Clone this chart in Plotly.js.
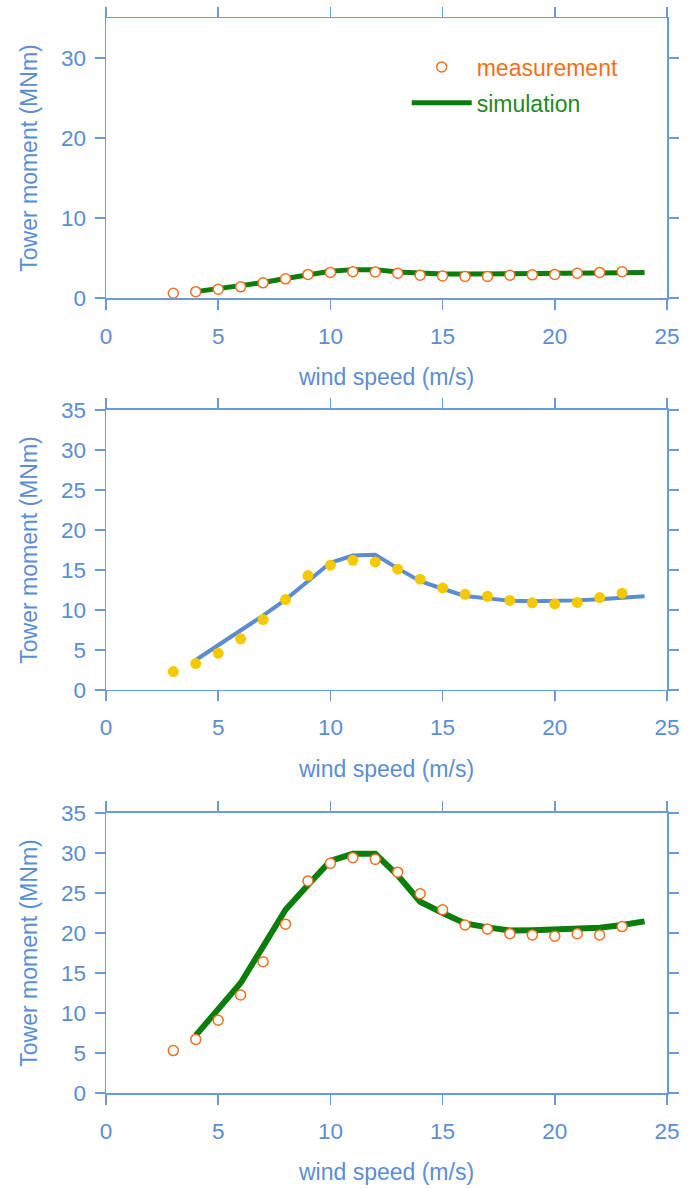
<!DOCTYPE html>
<html>
<head>
<meta charset="utf-8">
<script src="https://cdn.plot.ly/plotly-3.0.1.min.js"></script>
<style>
  html, body { margin: 0; padding: 0; background: #ffffff; }
  #chart { width: 692px; height: 1189px; }
</style>
</head>
<body>
<div id="chart"></div>
<script>
// ---- data ----
var windMeas = [3, 4, 5, 6, 7, 8, 9, 10, 11, 12, 13, 14, 15, 16, 17, 18, 19, 20, 21, 22, 23];
var windSim  = [4, 5, 6, 7, 8, 9, 10, 11, 12, 13, 14, 15, 16, 17, 18, 19, 20, 21, 22, 23, 24];

var topMeas = [0.6, 0.8, 1.1, 1.4, 1.9, 2.4, 2.95, 3.2, 3.3, 3.25, 3.1, 2.85, 2.75, 2.7, 2.7, 2.85, 2.9, 2.95, 3.1, 3.2, 3.3];
var topSim  = [0.8, 1.15, 1.5, 1.95, 2.45, 2.95, 3.35, 3.55, 3.55, 3.25, 3.05, 3.0, 3.0, 3.0, 3.0, 3.0, 3.05, 3.05, 3.1, 3.15, 3.2];

var midMeas = [2.3, 3.3, 4.6, 6.4, 8.8, 11.3, 14.3, 15.6, 16.2, 16.0, 15.1, 13.85, 12.75, 11.95, 11.7, 11.2, 10.9, 10.75, 10.95, 11.55, 12.1];
var midSim  = [3.75, 5.6, 7.4, 9.3, 11.3, 13.6, 15.9, 16.8, 16.9, 15.2, 13.6, 12.65, 11.75, 11.45, 11.15, 11.1, 11.1, 11.2, 11.35, 11.5, 11.7];

var botMeas = [5.3, 6.7, 9.1, 12.25, 16.4, 21.1, 26.5, 28.7, 29.4, 29.2, 27.6, 24.9, 22.9, 21.0, 20.5, 19.9, 19.75, 19.6, 19.9, 19.75, 20.8];
var botSim  = [7.2, 10.45, 13.75, 18.3, 22.9, 26.0, 29.0, 29.9, 29.9, 27.2, 23.9, 22.5, 21.2, 20.7, 20.3, 20.35, 20.4, 20.5, 20.65, 21.0, 21.45];

var xTitle = 'wind speed (m/s)';
var yTitle = 'Tower moment (MNm)';
var legendMeas = 'measurement';
var legendSim = 'simulation';

// ---- styles ----
var axisColor = '#6b9ad8';
var textColor = '#5b8dd4';
var orange = '#f07020';
var green = '#0b7d0b';
var blue = '#5b8ccf';
var yellow = '#f5c800';
var FONT = 'Liberation Sans, Arial, Helvetica, sans-serif';

var traces = [
  { x: windSim, y: topSim, xaxis: 'x', yaxis: 'y', type: 'scatter', mode: 'lines',
    name: '<span style="color:#1e8a1e">' + legendSim + '</span>', legendgroup: 'sim',
    line: { color: green, width: 5 }, showlegend: true, legendrank: 2 },
  { x: windMeas, y: topMeas, xaxis: 'x', yaxis: 'y', type: 'scatter', mode: 'markers',
    name: '<span style="color:#f07020">' + legendMeas + '</span>', legendgroup: 'meas',
    marker: { symbol: 'circle', size: 10, color: '#ffffff', line: { color: orange, width: 1.5 } },
    showlegend: true, legendrank: 1 },

  { x: windSim, y: midSim, xaxis: 'x2', yaxis: 'y2', type: 'scatter', mode: 'lines',
    line: { color: blue, width: 4 }, showlegend: false },
  { x: windMeas, y: midMeas, xaxis: 'x2', yaxis: 'y2', type: 'scatter', mode: 'markers',
    marker: { symbol: 'circle', size: 11, color: yellow, line: { width: 0 } }, showlegend: false },

  { x: windSim, y: botSim, xaxis: 'x3', yaxis: 'y3', type: 'scatter', mode: 'lines',
    line: { color: green, width: 6 }, showlegend: false },
  { x: windMeas, y: botMeas, xaxis: 'x3', yaxis: 'y3', type: 'scatter', mode: 'markers',
    marker: { symbol: 'circle', size: 10, color: '#ffffff', line: { color: orange, width: 1.5 } },
    showlegend: false }
];

function xAxis(anchor) {
  return {
    anchor: anchor, domain: [0, 1], range: [0, 25], dtick: 5, tick0: 0,
    showgrid: false, zeroline: false,
    showline: true, linecolor: axisColor, linewidth: 1.5, mirror: 'ticks',
    ticks: 'outside', ticklen: 10, tickwidth: 1.5, tickcolor: axisColor,
    ticklabelstandoff: 7,
    tickfont: { family: FONT, size: 22.5, color: textColor },
    automargin: true,
    title: { text: xTitle, font: { family: FONT, size: 23, color: textColor }, standoff: 21 }
  };
}
function yAxis(anchor, domain, dtick) {
  return {
    anchor: anchor, domain: domain, range: [0, 35], dtick: dtick, tick0: 0,
    showgrid: false, zeroline: false,
    showline: true, linecolor: axisColor, linewidth: 1.5, mirror: 'ticks',
    ticks: 'outside', ticklen: 10, tickwidth: 1.5, tickcolor: axisColor,
    ticklabelstandoff: 4,
    tickfont: { family: FONT, size: 22.5, color: textColor },
    automargin: true,
    title: { text: yTitle, font: { family: FONT, size: 23, color: textColor }, standoff: 17 }
  };
}

var layout = {
  width: 692, height: 1189,
  margin: { l: 106, r: 25, t: 18, b: 96, pad: 0, autoexpand: false },
  paper_bgcolor: '#ffffff', plot_bgcolor: '#ffffff',
  font: { family: FONT, size: 22.5, color: textColor },
  xaxis: xAxis('y'),
  yaxis: yAxis('x', [0.7395, 1], 10),
  xaxis2: xAxis('y2'),
  yaxis2: yAxis('x2', [0.3749, 0.6354], 5),
  xaxis3: xAxis('y3'),
  yaxis3: yAxis('x3', [0, 0.2605], 5),
  showlegend: true,
  legend: {
    x: 0.536, y: 0.9744, xanchor: 'left', yanchor: 'top',
    bgcolor: 'rgba(0,0,0,0)', borderwidth: 0,
    font: { family: FONT, size: 23, color: textColor },
    traceorder: 'grouped', tracegroupgap: 3, itemwidth: 60
  }
};

Plotly.newPlot('chart', traces, layout, { displayModeBar: false, staticPlot: true });
</script>
</body>
</html>
